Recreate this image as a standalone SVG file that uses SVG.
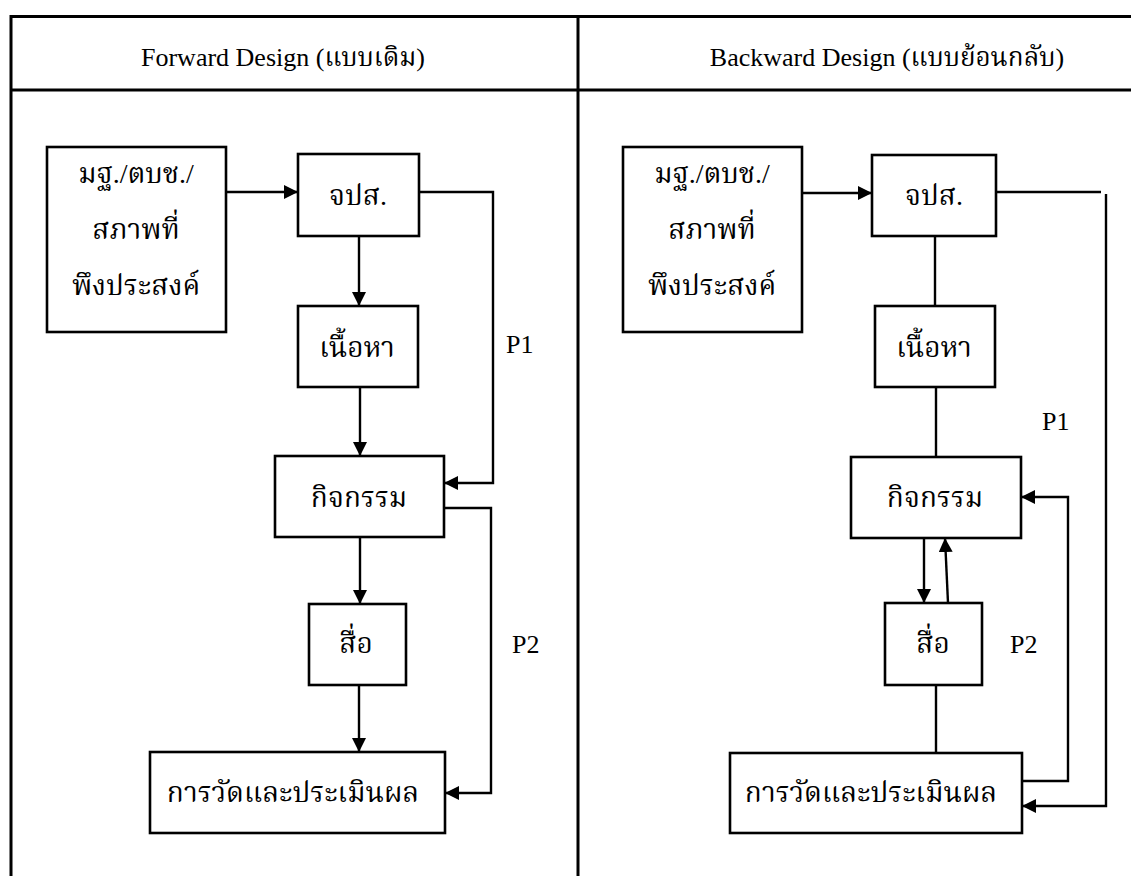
<svg xmlns="http://www.w3.org/2000/svg" width="1131" height="876" viewBox="0 0 1131 876">
<style>
.tbl{stroke:#000;stroke-width:3;fill:none}
.box{fill:#fff;stroke:#000;stroke-width:2.6}
.ln{fill:none;stroke:#000;stroke-width:2.4}
.t{font-family:"Liberation Serif","Norasi","Kinnari","Noto Serif Thai","Noto Sans Thai",serif;font-size:28px;fill:#000;text-anchor:middle}
.h{font-family:"Liberation Serif","Norasi","Kinnari","Noto Serif Thai","Noto Sans Thai",serif;font-size:26px;fill:#000;text-anchor:middle}
.p{font-family:"Liberation Serif",serif;font-size:26px;fill:#000}
</style>
<defs>
<marker id="ah" markerUnits="userSpaceOnUse" markerWidth="16" markerHeight="16" refX="14" refY="7" orient="auto">
<path d="M0,0 L14,7 L0,14 z" fill="#000"/>
</marker>
</defs>
<rect width="1131" height="876" fill="#fff"/>
<g id="table">
<line class="tbl" x1="11" y1="16.5" x2="1131" y2="16.5"/>
<line class="tbl" x1="11" y1="90" x2="1131" y2="90"/>
<line class="tbl" x1="11" y1="15" x2="11" y2="876"/>
<line class="tbl" x1="578" y1="15" x2="578" y2="876"/>
<text class="h" x="283" y="66">Forward Design (แบบเดิม)</text>
<text class="h" x="887" y="66">Backward Design (แบบย้อนกลับ)</text>
</g>
<g id="connectors">
<path class="ln" d="M226,192 H298" marker-end="url(#ah)"/>
<path class="ln" d="M359,236 V306" marker-end="url(#ah)"/>
<path class="ln" d="M360,387 V456" marker-end="url(#ah)"/>
<path class="ln" d="M419,192 H493 V483 H444" marker-end="url(#ah)"/>
<path class="ln" d="M360,537 V604" marker-end="url(#ah)"/>
<path class="ln" d="M444,508 H491 V793 H445" marker-end="url(#ah)"/>
<path class="ln" d="M359,685 V752" marker-end="url(#ah)"/>
<path class="ln" d="M802,193 H872" marker-end="url(#ah)"/>
<path class="ln" d="M935,236 V306"/>
<path class="ln" d="M936,387 V457"/>
<path class="ln" d="M996,192 H1101"/>
<path class="ln" d="M1106,194 V806 H1022" marker-end="url(#ah)"/>
<path class="ln" d="M924,538 V603" marker-end="url(#ah)"/>
<path class="ln" d="M948,603 L945,538" marker-end="url(#ah)"/>
<path class="ln" d="M936,685 V753"/>
<path class="ln" d="M1022,781 H1068 V497 H1021" marker-end="url(#ah)"/>
<text class="p" x="506" y="353">P1</text>
<text class="p" x="512" y="653">P2</text>
<text class="p" x="1042" y="430">P1</text>
<text class="p" x="1010" y="653">P2</text>
</g>
<g id="L-std">
<rect class="box" x="47" y="147" width="179" height="185"/>
<text class="t" x="136" y="183">มฐ./ตบช./</text>
<text class="t" x="136" y="239">สภาพที่</text>
<text class="t" x="136" y="295">พึงประสงค์</text>
</g>
<g id="L-obj"><rect class="box" x="298" y="154" width="121" height="82"/><text class="t" x="358" y="205">จปส.</text></g>
<g id="L-content"><rect class="box" x="298" y="306" width="120" height="81"/><text class="t" x="357" y="357">เนื้อหา</text></g>
<g id="L-activity"><rect class="box" x="275" y="456" width="169" height="81"/><text class="t" x="359" y="507">กิจกรรม</text></g>
<g id="L-media"><rect class="box" x="309" y="604" width="97" height="81"/><text class="t" x="356" y="653">สื่อ</text></g>
<g id="L-eval"><rect class="box" x="150" y="752" width="295" height="81"/><text class="t" x="293" y="802">การวัดและประเมินผล</text></g>
<g id="R-std">
<rect class="box" x="623" y="147" width="179" height="185"/>
<text class="t" x="712" y="183">มฐ./ตบช./</text>
<text class="t" x="712" y="239">สภาพที่</text>
<text class="t" x="712" y="295">พึงประสงค์</text>
</g>
<g id="R-obj"><rect class="box" x="872" y="155" width="124" height="81"/><text class="t" x="934" y="205">จปส.</text></g>
<g id="R-content"><rect class="box" x="875" y="306" width="120" height="81"/><text class="t" x="934" y="357">เนื้อหา</text></g>
<g id="R-activity"><rect class="box" x="851" y="457" width="170" height="81"/><text class="t" x="935" y="507">กิจกรรม</text></g>
<g id="R-media"><rect class="box" x="885" y="603" width="97" height="82"/><text class="t" x="933" y="653">สื่อ</text></g>
<g id="R-eval"><rect class="box" x="730" y="753" width="292" height="80"/><text class="t" x="871" y="802">การวัดและประเมินผล</text></g>
</svg>
